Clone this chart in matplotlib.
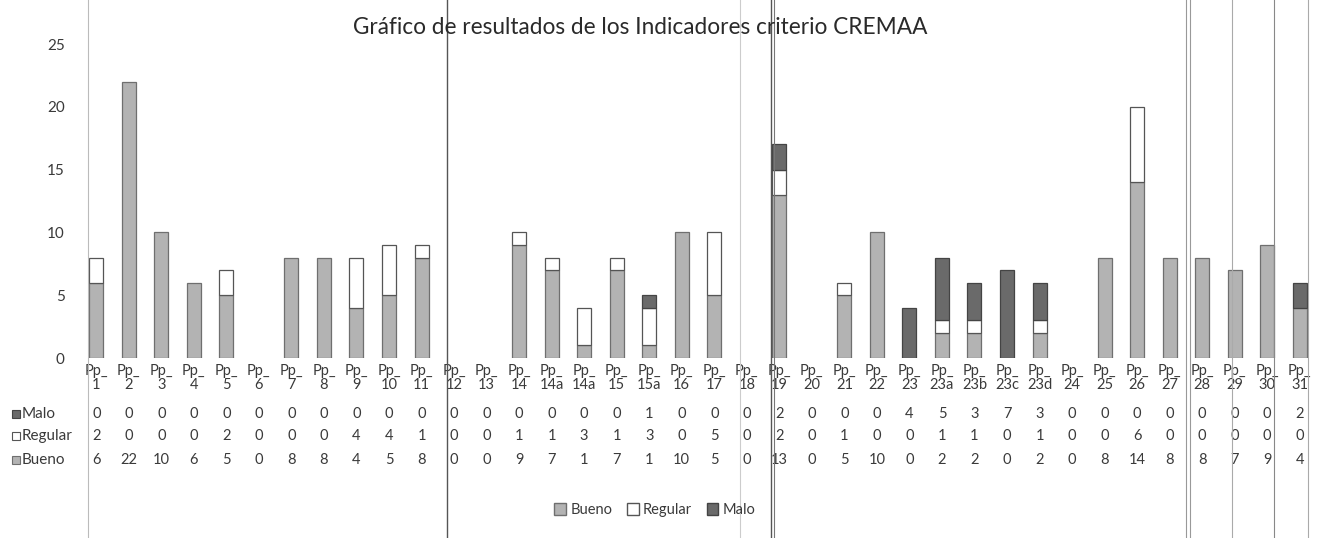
import matplotlib
matplotlib.use("Agg")
import matplotlib.pyplot as plt
from matplotlib.patches import Patch
from matplotlib.transforms import blended_transform_factory
import numpy as np

plt.rcParams['font.family'] = ['Lato', 'DejaVu Sans']

categories = ["1", "2", "3", "4", "5", "6", "7", "8", "9", "10", "11", "12", "13",
              "14", "14a", "14a", "15", "15a", "16", "17", "18", "19", "20", "21",
              "22", "23", "23a", "23b", "23c", "23d", "24", "25", "26", "27", "28",
              "29", "30", "31"]
malo = [0, 0, 0, 0, 0, 0, 0, 0, 0, 0, 0, 0, 0, 0, 0, 0, 0, 1, 0, 0, 0, 2, 0, 0,
        0, 4, 5, 3, 7, 3, 0, 0, 0, 0, 0, 0, 0, 2]
regular = [2, 0, 0, 0, 2, 0, 0, 0, 4, 4, 1, 0, 0, 1, 1, 3, 1, 3, 0, 5, 0, 2, 0, 1,
           0, 0, 1, 1, 0, 1, 0, 0, 6, 0, 0, 0, 0, 0]
bueno = [6, 22, 10, 6, 5, 0, 8, 8, 4, 5, 8, 0, 0, 9, 7, 1, 7, 1, 10, 5, 0, 13, 0, 5,
         10, 0, 2, 2, 0, 2, 0, 8, 14, 8, 8, 7, 9, 4]

title = "Gráfico de resultados de los Indicadores criterio CREMAA"
series_names = ["Bueno", "Regular", "Malo"]
c_bueno = "#b3b3b3"
c_regular = "#ffffff"
c_malo = "#6a6a6a"
txt = "#3a3a3a"

W, H = 1320, 538
fig = plt.figure(figsize=(W / 100, H / 100), dpi=100)
ax_left, ax_right, ax_top, ax_bottom = 80, 1316, 44, 358
ax = fig.add_axes([ax_left / W, 1 - ax_bottom / H, (ax_right - ax_left) / W,
                   (ax_bottom - ax_top) / H])

x = np.arange(len(categories))
b = np.array(bueno)
r = np.array(regular)
m = np.array(malo)
bw = 0.43


def draw(vals, bottom, fc, ec):
    keep = vals > 0
    ax.bar(x[keep], vals[keep], bw, bottom=bottom[keep], color=fc, edgecolor=ec,
           linewidth=0.9)


draw(b, np.zeros_like(b), c_bueno, "#6f6f6f")
draw(r, b, c_regular, "#555555")
draw(m, b + r, c_malo, "#444444")

ax.set_xlim(-0.5, len(categories) - 0.5)
ax.set_ylim(0, 25)
ax.set_yticks([0, 5, 10, 15, 20, 25])
ax.tick_params(axis='y', length=0, pad=11, labelsize=11, labelcolor=txt)
ax.set_xticks([])
for s in ax.spines.values():
    s.set_visible(False)

fig.text(0.485, 1 - 28 / H, title, ha='center', va='center', fontsize=16.3, color="#2a2a2a")

# data table
tr = blended_transform_factory(ax.transData, fig.transFigure)
for i, c in enumerate(categories):
    ax.text(i, 1 - 378 / H, "Pp_\n" + c, transform=tr, ha='center', va='center',
            fontsize=10.5, color=txt, linespacing=1.0, clip_on=False)
rows = [("Malo", malo, 414), ("Regular", regular, 436), ("Bueno", bueno, 460)]
for name, vals, yp in rows:
    for i, v in enumerate(vals):
        ax.text(i, 1 - yp / H, str(v), transform=tr, ha='center', va='center',
                fontsize=10.5, color=txt, clip_on=False)

marker_styles = {"Malo": (c_malo, "#444444"), "Regular": (c_regular, "#555555"),
                 "Bueno": (c_bueno, "#6f6f6f")}
for name, vals, yp in rows:
    fc, ec = marker_styles[name]
    fig.patches.append(plt.Rectangle((12 / W, 1 - (yp + 4) / H), 8 / W, 8 / H,
                                     facecolor=fc, edgecolor=ec, linewidth=0.8,
                                     transform=fig.transFigure))
    fig.text(22 / W, 1 - yp / H, name, ha='left', va='center', fontsize=11, color=txt)

# table / scan border lines
for xp, col, lw in [(88, "#bbbbbb", 0.8), (447, "#555555", 1.0), (740, "#cccccc", 0.8),
                    (771, "#555555", 1.0), (774, "#777777", 0.8), (1186, "#999999", 0.8),
                    (1190, "#999999", 0.8), (1232, "#aaaaaa", 0.8), (1274, "#888888", 0.8),
                    (1308, "#aaaaaa", 0.8)]:
    fig.add_artist(plt.Line2D([xp / W, xp / W], [0, 1], color=col, linewidth=lw,
                              transform=fig.transFigure))

handles = [Patch(facecolor=c_bueno, edgecolor="#6f6f6f"),
           Patch(facecolor=c_regular, edgecolor="#555555"),
           Patch(facecolor=c_malo, edgecolor="#444444")]
leg = fig.legend(handles, series_names, loc='center', bbox_to_anchor=(655 / W, 1 - 510 / H),
                 ncol=3, frameon=False, fontsize=10.5, handlelength=0.8, handleheight=0.8,
                 handletextpad=0.3, columnspacing=1.0)
for t in leg.get_texts():
    t.set_color(txt)

fig.savefig("out.png", dpi=100, facecolor="white")
